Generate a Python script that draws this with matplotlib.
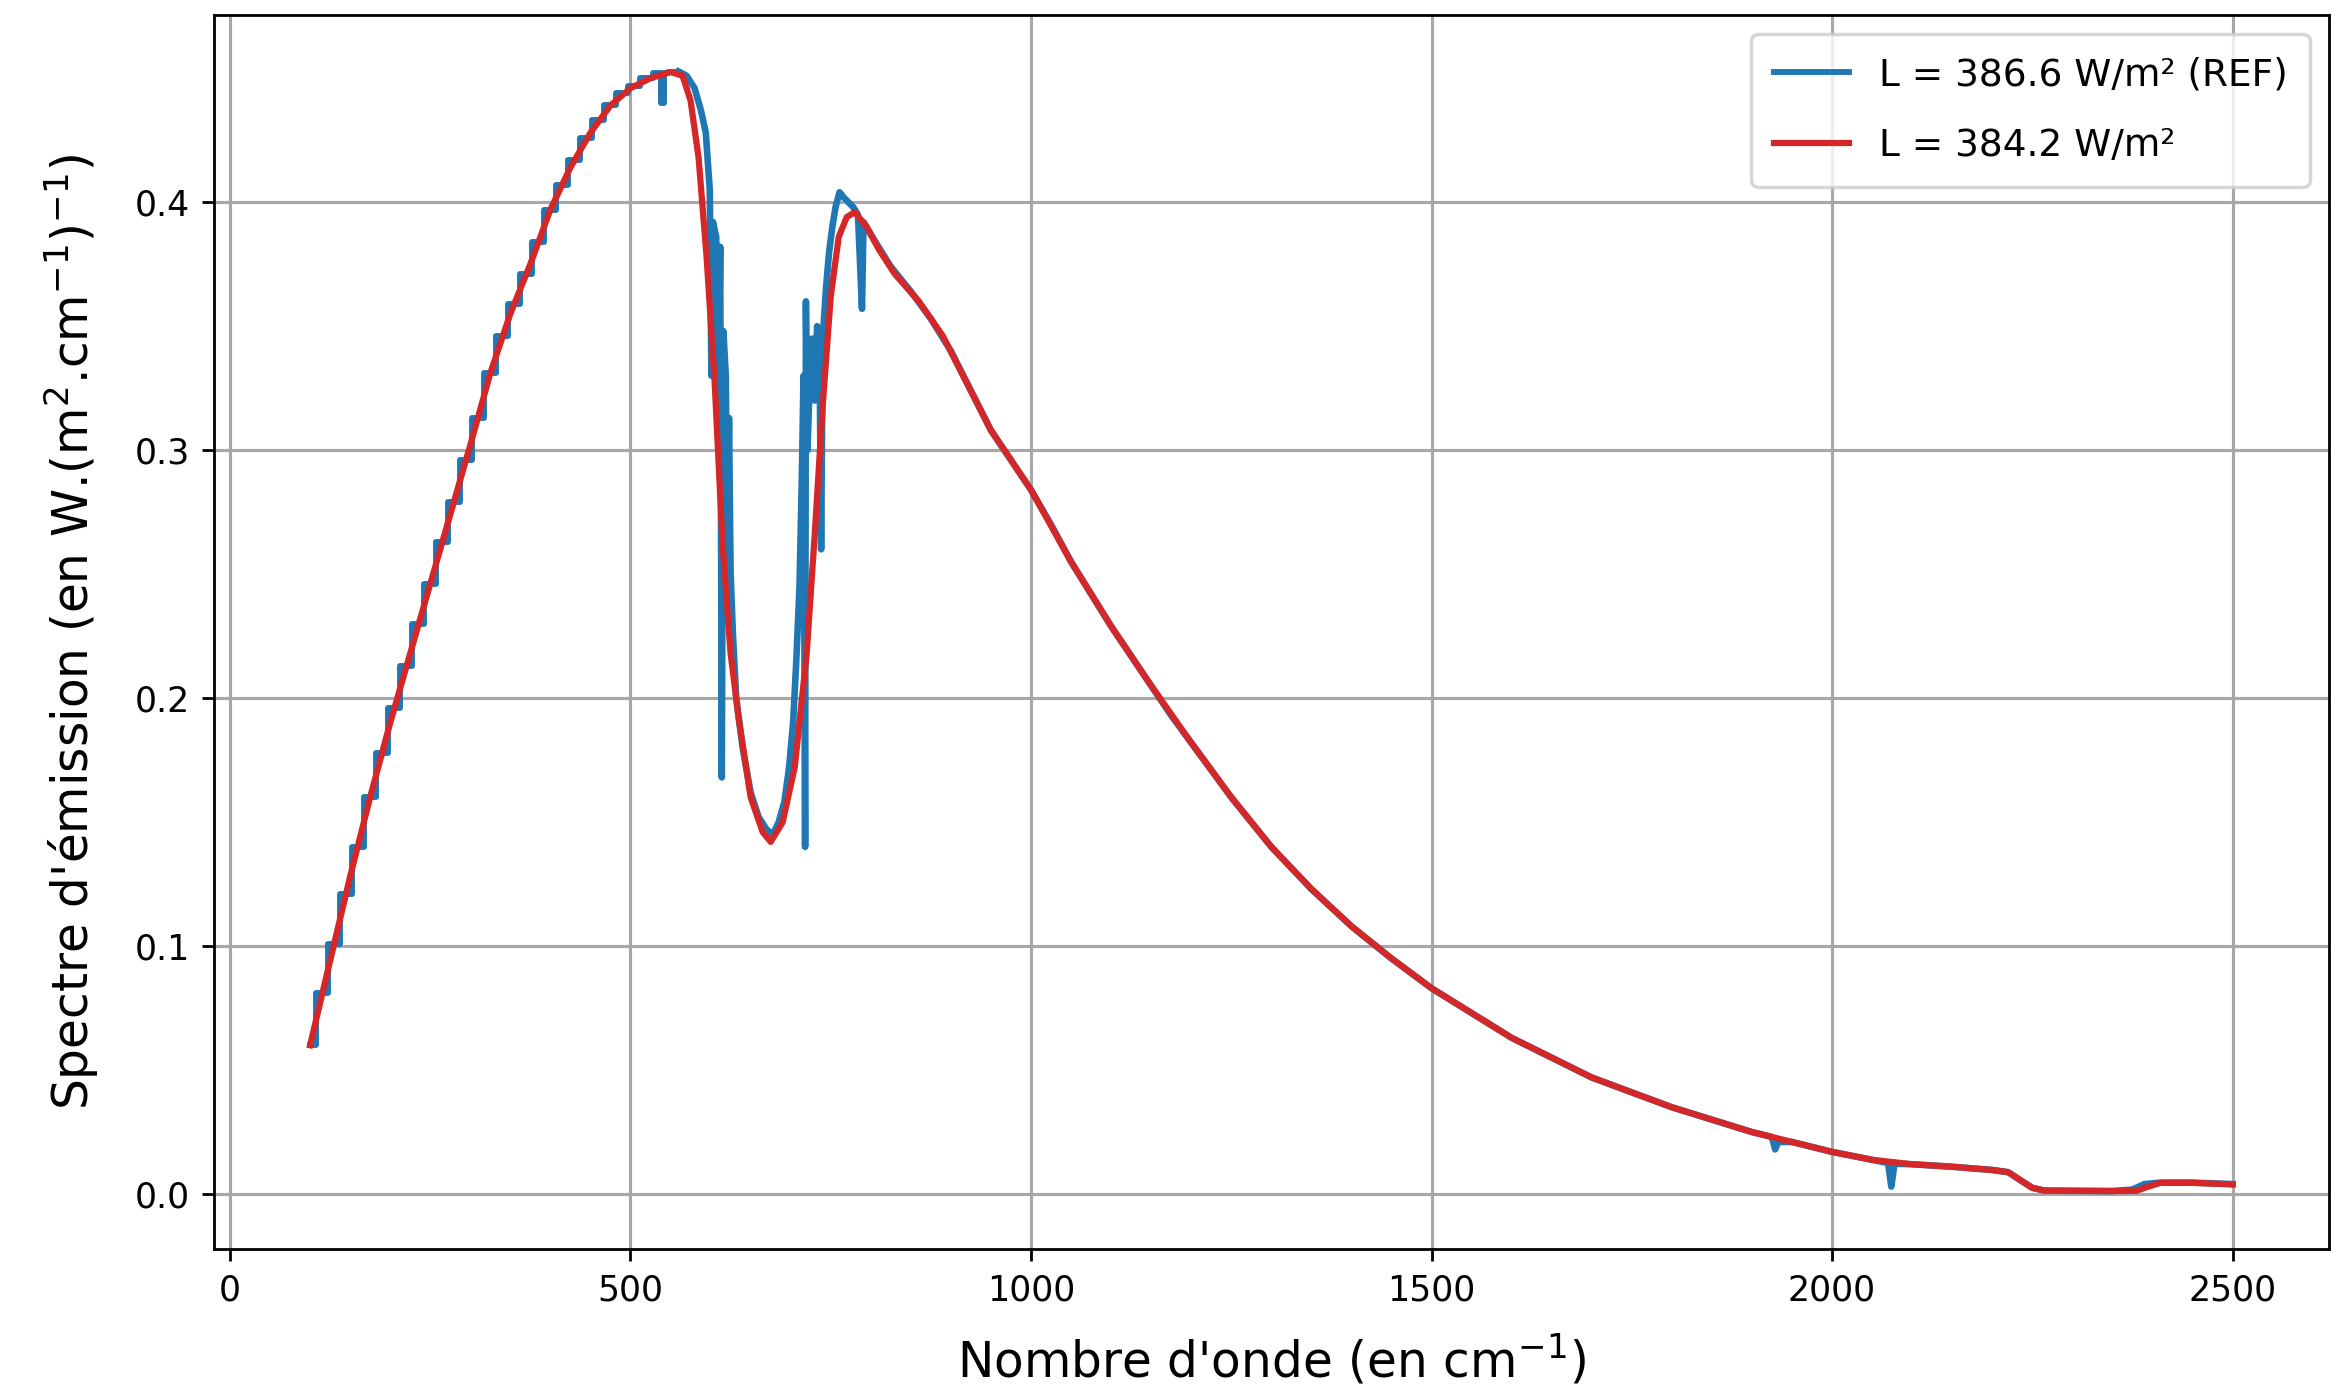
import matplotlib
matplotlib.use("Agg")
import matplotlib.pyplot as plt

# ---- Reference spectrum (blue, binned) ----
wn_ref = [100, 115, 130, 145, 160, 175, 190, 205, 220, 235, 250, 265, 280, 295, 310,
          325, 340, 355, 370, 385, 400, 415, 430, 445, 460, 475, 490, 505, 520, 535,
          541, 543, 550, 560, 570, 580, 588, 594, 599, 601, 603, 607, 610, 612, 614,
          616, 619, 621, 623, 625, 628, 632, 640, 650, 660, 670, 678, 685, 692, 698,
          703, 707, 711, 714, 716, 718, 719, 721, 724, 727, 730, 733, 736, 738, 740,
          744, 748, 752, 756, 761, 766, 772, 778, 784, 789, 791, 800, 825, 850, 875,
          900, 925, 950, 975, 1000, 1025, 1050, 1075, 1100, 1125, 1150, 1175, 1200,
          1225, 1250, 1275, 1300, 1350, 1400, 1450, 1500, 1550, 1600, 1650, 1700,
          1750, 1800, 1850, 1900, 1925, 1929, 1933, 1950, 2000, 2050, 2070, 2074,
          2078, 2100, 2150, 2200, 2220, 2235, 2250, 2265, 2300, 2350, 2375, 2390,
          2410, 2450, 2500]
L_ref = [0.060, 0.081, 0.101, 0.121, 0.140, 0.160, 0.178, 0.196, 0.213, 0.230, 0.246,
         0.263, 0.279, 0.296, 0.313, 0.331, 0.346, 0.359, 0.371, 0.384, 0.397, 0.407,
         0.417, 0.426, 0.433, 0.439, 0.444, 0.447, 0.450, 0.452, 0.440, 0.452, 0.4527,
         0.4527, 0.451, 0.446, 0.437, 0.428, 0.405, 0.330, 0.392, 0.386, 0.325, 0.382,
         0.168, 0.348, 0.330, 0.250, 0.313, 0.250, 0.225, 0.200, 0.180, 0.162, 0.152,
         0.147, 0.145, 0.150, 0.158, 0.172, 0.190, 0.215, 0.245, 0.290, 0.330, 0.140,
         0.360, 0.300, 0.330, 0.345, 0.320, 0.350, 0.340, 0.260, 0.345, 0.365, 0.380,
         0.390, 0.398, 0.404, 0.402, 0.400, 0.398, 0.395, 0.357, 0.392, 0.387, 0.374,
         0.364, 0.353, 0.340, 0.324, 0.308, 0.296, 0.284, 0.270, 0.255, 0.242, 0.229,
         0.217, 0.205, 0.193, 0.182, 0.171, 0.160, 0.150, 0.140, 0.123, 0.108, 0.095,
         0.083, 0.073, 0.063, 0.055, 0.047, 0.041, 0.035, 0.030, 0.025, 0.023, 0.018,
         0.021, 0.021, 0.017, 0.0138, 0.0125, 0.003, 0.0122, 0.012, 0.011, 0.0097,
         0.0088, 0.0056, 0.0025, 0.0014, 0.0013, 0.0012, 0.0018, 0.0040, 0.0046,
         0.0046, 0.0040]

# ---- Model spectrum (red, smooth) ----
wn_mod = [100, 125, 150, 175, 200, 225, 250, 275, 300, 325, 350, 375, 400, 425, 450,
          475, 500, 525, 550, 565, 575, 585, 595, 605, 615, 625, 635, 650, 665, 675,
          690, 705, 720, 730, 740, 750, 760, 770, 780, 795, 810, 830, 860, 890, 920,
          950, 1000, 1050, 1100, 1150, 1200, 1250, 1300, 1350, 1400, 1450, 1500, 1550,
          1600, 1650, 1700, 1750, 1800, 1850, 1900, 1950, 2000, 2050, 2100, 2150, 2200,
          2220, 2235, 2250, 2265, 2300, 2350, 2380, 2395, 2410, 2450, 2500]
L_mod = [0.060, 0.094, 0.128, 0.160, 0.190, 0.218, 0.246, 0.274, 0.302, 0.331, 0.355,
         0.375, 0.397, 0.414, 0.428, 0.439, 0.446, 0.450, 0.4525, 0.451, 0.441, 0.418,
         0.378, 0.328, 0.262, 0.218, 0.192, 0.160, 0.146, 0.142, 0.150, 0.172, 0.218,
         0.266, 0.318, 0.362, 0.386, 0.394, 0.396, 0.390, 0.381, 0.371, 0.360, 0.346,
         0.327, 0.308, 0.284, 0.255, 0.229, 0.205, 0.182, 0.160, 0.140, 0.123, 0.108,
         0.095, 0.083, 0.073, 0.063, 0.055, 0.047, 0.041, 0.035, 0.030, 0.025, 0.021,
         0.017, 0.0138, 0.012, 0.011, 0.0097, 0.0088, 0.0056, 0.0025, 0.0014, 0.0013,
         0.0012, 0.0013, 0.0030, 0.0045, 0.0045, 0.0039]

label_ref = "L = 386.6 W/m² (REF)"
label_mod = "L = 384.2 W/m²"
xticks = [0, 500, 1000, 1500, 2000, 2500]
yticks = [0.0, 0.1, 0.2, 0.3, 0.4]

fig = plt.figure(figsize=(9.404, 5.536), dpi=250)
ax = fig.add_axes([0.091, 0.0975, 0.8995, 0.8915])

# binned staircase visible on the rising side, continuous elsewhere
n_step = wn_ref.index(560) + 1
ax.plot(wn_ref[:n_step], L_ref[:n_step], color="tab:blue", lw=1.7,
        drawstyle="steps-mid", label=label_ref)
ax.plot(wn_ref[n_step - 1:], L_ref[n_step - 1:], color="tab:blue", lw=1.9)
ax.plot(wn_mod, L_mod, color="tab:red", lw=1.8, label=label_mod)

ax.set_xlim(-20, 2620)
ax.set_ylim(-0.0222, 0.4754)
ax.set_xticks(xticks)
ax.set_yticks(yticks)
ax.tick_params(labelsize=10)
ax.grid(True, color="#a8a8a8", lw=0.9)
ax.set_axisbelow(True)

ax.set_xlabel("Nombre d'onde (en cm$^{-1}$)", fontsize=14, labelpad=7.5)
ax.set_ylabel("Spectre d'émission (en W.(m$^2$.cm$^{-1}$)$^{-1}$)", fontsize=14,
              labelpad=9.5)
ax.legend(loc="upper right", fontsize=10.8, labelspacing=0.9, borderpad=0.6)

fig.savefig("out.png", dpi=250)
